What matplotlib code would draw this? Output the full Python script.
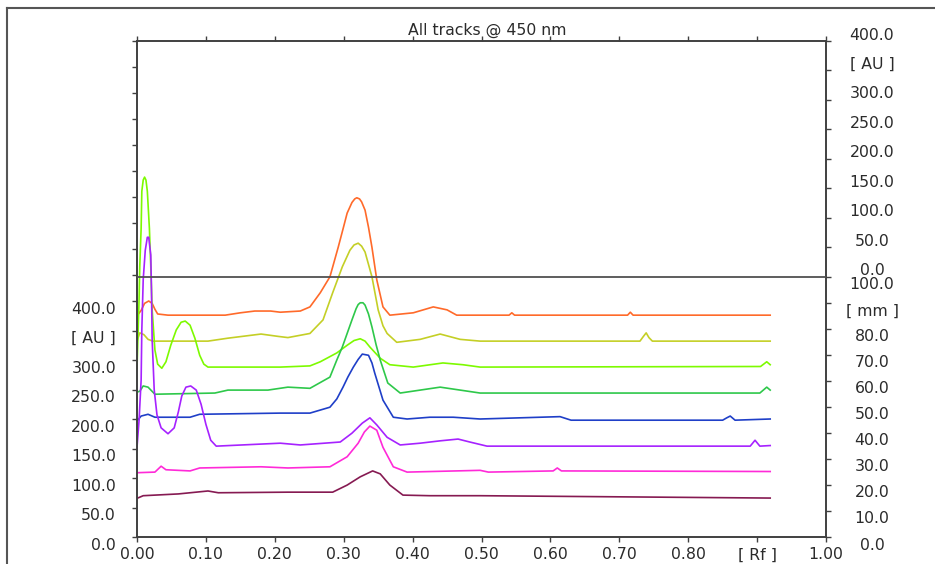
import numpy as np
import matplotlib
matplotlib.use('Agg')
from matplotlib import pyplot as plt
from matplotlib.lines import Line2D
from matplotlib.transforms import offset_copy

# densitogram tracks, Rf vs AU
orangeRf = [0.002, 0.006, 0.011, 0.017, 0.022, 0.026, 0.030, 0.045, 0.128, 0.150, 0.171, 0.194, 0.208,
            0.237, 0.251, 0.266, 0.280, 0.292, 0.299, 0.305, 0.312, 0.316, 0.319, 0.323, 0.326, 0.331,
            0.336, 0.341, 0.348, 0.357, 0.367, 0.401, 0.430, 0.450, 0.464, 0.540, 0.544, 0.548, 0.712,
            0.716, 0.720, 0.919]
orangeAU = [378, 384, 396, 400, 396, 386, 378, 376, 376, 380, 383, 383, 381,
            383, 390, 414, 441, 491, 522, 549, 567, 573, 575, 573, 568, 554,
            525, 491, 436, 390, 376, 380, 390, 385, 376, 376, 380, 376, 376,
            381, 376, 376]

yellowRf = [0.000, 0.004, 0.010, 0.016, 0.023, 0.103, 0.132, 0.180, 0.205, 0.219, 0.251, 0.270, 0.284,
            0.298, 0.309, 0.315, 0.321, 0.326, 0.331, 0.341, 0.350, 0.357, 0.363, 0.377, 0.411, 0.440,
            0.469, 0.498, 0.730, 0.735, 0.739, 0.743, 0.748, 0.919]
yellowAU = [332, 346, 343, 335, 332, 332, 337, 344, 340, 338, 345, 368, 414,
            458, 486, 495, 498, 493, 483, 441, 385, 358, 345, 330, 335, 344,
            335, 332, 332, 340, 346, 338, 332, 332]

limeRf = [0.000, 0.003, 0.004, 0.006, 0.007, 0.009, 0.011, 0.013, 0.015, 0.018, 0.020, 0.022, 0.026,
          0.030, 0.036, 0.042, 0.049, 0.057, 0.064, 0.070, 0.077, 0.084, 0.091, 0.097, 0.103, 0.208,
          0.251, 0.266, 0.290, 0.305, 0.315, 0.324, 0.331, 0.338, 0.353, 0.367, 0.401, 0.444, 0.473,
          0.498, 0.905, 0.914, 0.919]
limeAU = [286, 402, 458, 523, 586, 605, 610, 605, 586, 523, 458, 385, 317,
          293, 286, 297, 325, 351, 364, 366, 359, 337, 308, 293, 288, 288,
          290, 297, 312, 325, 333, 336, 332, 322, 303, 292, 288, 295, 292,
          288, 289, 297, 292]

greenRf = [0.001, 0.004, 0.009, 0.016, 0.026, 0.113, 0.132, 0.190, 0.219, 0.251, 0.280, 0.290, 0.298,
           0.305, 0.312, 0.318, 0.321, 0.324, 0.328, 0.331, 0.336, 0.341, 0.347, 0.353, 0.364, 0.382,
           0.411, 0.440, 0.469, 0.498, 0.904, 0.914, 0.919]
greenAU = [246, 247, 256, 254, 242, 244, 249, 249, 254, 252, 271, 300, 322,
           345, 368, 387, 394, 397, 397, 393, 378, 356, 326, 300, 261, 244,
           249, 254, 249, 244, 244, 254, 249]

blueRf = [0.001, 0.006, 0.016, 0.026, 0.077, 0.091, 0.208, 0.251, 0.280, 0.290, 0.299, 0.306, 0.314,
          0.321, 0.327, 0.336, 0.341, 0.345, 0.351, 0.357, 0.372, 0.392, 0.425, 0.459, 0.498, 0.614,
          0.630, 0.850, 0.856, 0.861, 0.868, 0.919]
blueAU = [198, 205, 208, 203, 203, 208, 210, 210, 220, 234, 254, 271, 288,
          301, 310, 308, 295, 278, 255, 232, 203, 200, 203, 203, 200, 204,
          198, 198, 202, 205, 198, 200]

purpleRf = [0.000, 0.003, 0.006, 0.007, 0.009, 0.012, 0.015, 0.017, 0.020, 0.021, 0.022, 0.025, 0.029,
            0.035, 0.045, 0.054, 0.060, 0.065, 0.071, 0.078, 0.086, 0.093, 0.100, 0.107, 0.115, 0.208,
            0.237, 0.295, 0.312, 0.327, 0.338, 0.348, 0.363, 0.382, 0.411, 0.440, 0.466, 0.483, 0.508,
            0.890, 0.897, 0.904, 0.919]
purpleAU = [152, 198, 266, 351, 436, 486, 508, 508, 478, 419, 334, 249, 207,
            185, 175, 185, 212, 239, 254, 256, 249, 225, 191, 164, 154, 159,
            156, 161, 176, 193, 202, 190, 169, 156, 159, 163, 166, 161, 154,
            154, 164, 154, 155]

magentaRf = [0.001, 0.026, 0.035, 0.042, 0.077, 0.091, 0.180, 0.219, 0.280, 0.305, 0.321, 0.330,
             0.338, 0.348, 0.357, 0.372, 0.392, 0.498, 0.510, 0.604, 0.610, 0.616, 0.919]
magentaAU = [109, 110, 120, 114, 112, 117, 119, 117, 119, 136, 159, 178,
             188, 181, 152, 119, 110, 113, 110, 112, 117, 112, 111]

maroonRf = [0.001, 0.009, 0.060, 0.103, 0.118, 0.219, 0.284, 0.305, 0.324, 0.342, 0.353, 0.367,
            0.386, 0.425, 0.498, 0.919]
maroonAU = [66, 70, 73, 78, 75, 76, 76, 88, 102, 112, 107, 88, 71, 70, 70, 66]

tracks = [
    (orangeRf, orangeAU, '#ff6a2a'),
    (yellowRf, yellowAU, '#c4cf26'),
    (limeRf, limeAU, '#7dfa00'),
    (greenRf, greenAU, '#2ec84a'),
    (blueRf, blueAU, '#1f3fc8'),
    (purpleRf, purpleAU, '#a622ff'),
    (magentaRf, magentaAU, '#ff2ad8'),
    (maroonRf, maroonAU, '#861a52'),
]

xTicks = [0.0, 0.1, 0.2, 0.3, 0.4, 0.5, 0.6, 0.7, 0.8, 0.9, 1.0]
xLabels = ['0.00', '0.10', '0.20', '0.30', '0.40', '0.50', '0.60', '0.70', '0.80', '[ Rf ]', '1.00']
auTicks = [0, 50, 100, 150, 200, 250, 300, 350, 400]
auLabels = ['0.0', '50.0', '100.0', '150.0', '200.0', '250.0', '300.0', '[ AU ]', '400.0']
mmTicks = [0, 10, 20, 30, 40, 50, 60, 70, 80, 90, 100]
mmLabels = ['0.0', '10.0', '20.0', '30.0', '40.0', '50.0', '60.0', '70.0', '80.0', '[ mm ]', '100.0']

# lower panel is 100 mm tall, upper panel adds 400 AU on top of it
lowerTop = 440.7
auPerMm = lowerTop / 100.0
yTop = lowerTop + 400

plt.rcParams['font.family'] = ['DejaVu Sans']
plt.rcParams['font.size'] = 11.3
txtColor = '#2b2b2b'
axColor = '#404040'

fig = plt.figure(figsize=(9.35, 5.64), dpi=100)
ax = fig.add_axes([137/935, 27/564, 689/935, 496/564])
ax.set_xlim(0, 1)
ax.set_ylim(0, yTop)

for rf, au, col in tracks:
    ax.plot(rf, au, color=col, lw=1.2, solid_joinstyle='round')

ax.axhline(lowerTop, color='#505050', lw=1.3, zorder=5)

for sp in ax.spines.values():
    sp.set_color(axColor)
    sp.set_linewidth(1.4)

# x axis ticks on top and bottom
ax.set_xticks(xTicks, labels=xLabels)
ax.tick_params(axis='x', top=True, bottom=True, direction='out', length=3.5, width=1,
               color=axColor, labelcolor=txtColor, pad=4, labelsize=11.3)

# left: AU ticks below, unlabelled ticks in the upper part
ax.set_yticks(auTicks, labels=[])
ax.set_yticks([yTop - k * 10 * auPerMm for k in range(10)], minor=True)
ax.tick_params(axis='y', which='both', direction='out', length=3.5, width=1, color=axColor)

ax2 = ax.twinx()
ax2.set_ylim(0, yTop)
ax2.set_yticks([lowerTop + t for t in auTicks], labels=[])
ax2.set_yticks([m * auPerMm for m in mmTicks], minor=True)
ax2.tick_params(axis='y', which='both', direction='out', length=3.5, width=1, color=axColor)
for sp in ax2.spines.values():
    sp.set_visible(False)

leftTr = offset_copy(ax.get_yaxis_transform(), fig=fig, x=-21, y=-8, units='dots')
for t, lab in zip(auTicks, auLabels):
    ax.text(0, t, lab, transform=leftTr, ha='right', va='center', color=txtColor)

upTr = offset_copy(ax.get_yaxis_transform(), fig=fig, x=46, y=6, units='dots')
for t, lab in zip(auTicks, auLabels):
    ax.text(1, lowerTop + t, lab, transform=upTr, ha='center', va='center', color=txtColor)

mmTr = offset_copy(ax.get_yaxis_transform(), fig=fig, x=46, y=-8, units='dots')
for m, lab in zip(mmTicks, mmLabels):
    ax.text(1, m * auPerMm, lab, transform=mmTr, ha='center', va='center', color=txtColor)

fig.text(487/935, 1 - 30/564, 'All tracks @ 450 nm', ha='center', va='center', color=txtColor)

# outer frame (only left and top edges are inside the picture)
fig.add_artist(Line2D([7/935, 7/935], [0, 1 - 8/564], transform=fig.transFigure, color='#555555', lw=1.5))
fig.add_artist(Line2D([7/935, 1], [1 - 8/564, 1 - 8/564], transform=fig.transFigure, color='#555555', lw=1.5))

fig.savefig('out.png', dpi=100)
